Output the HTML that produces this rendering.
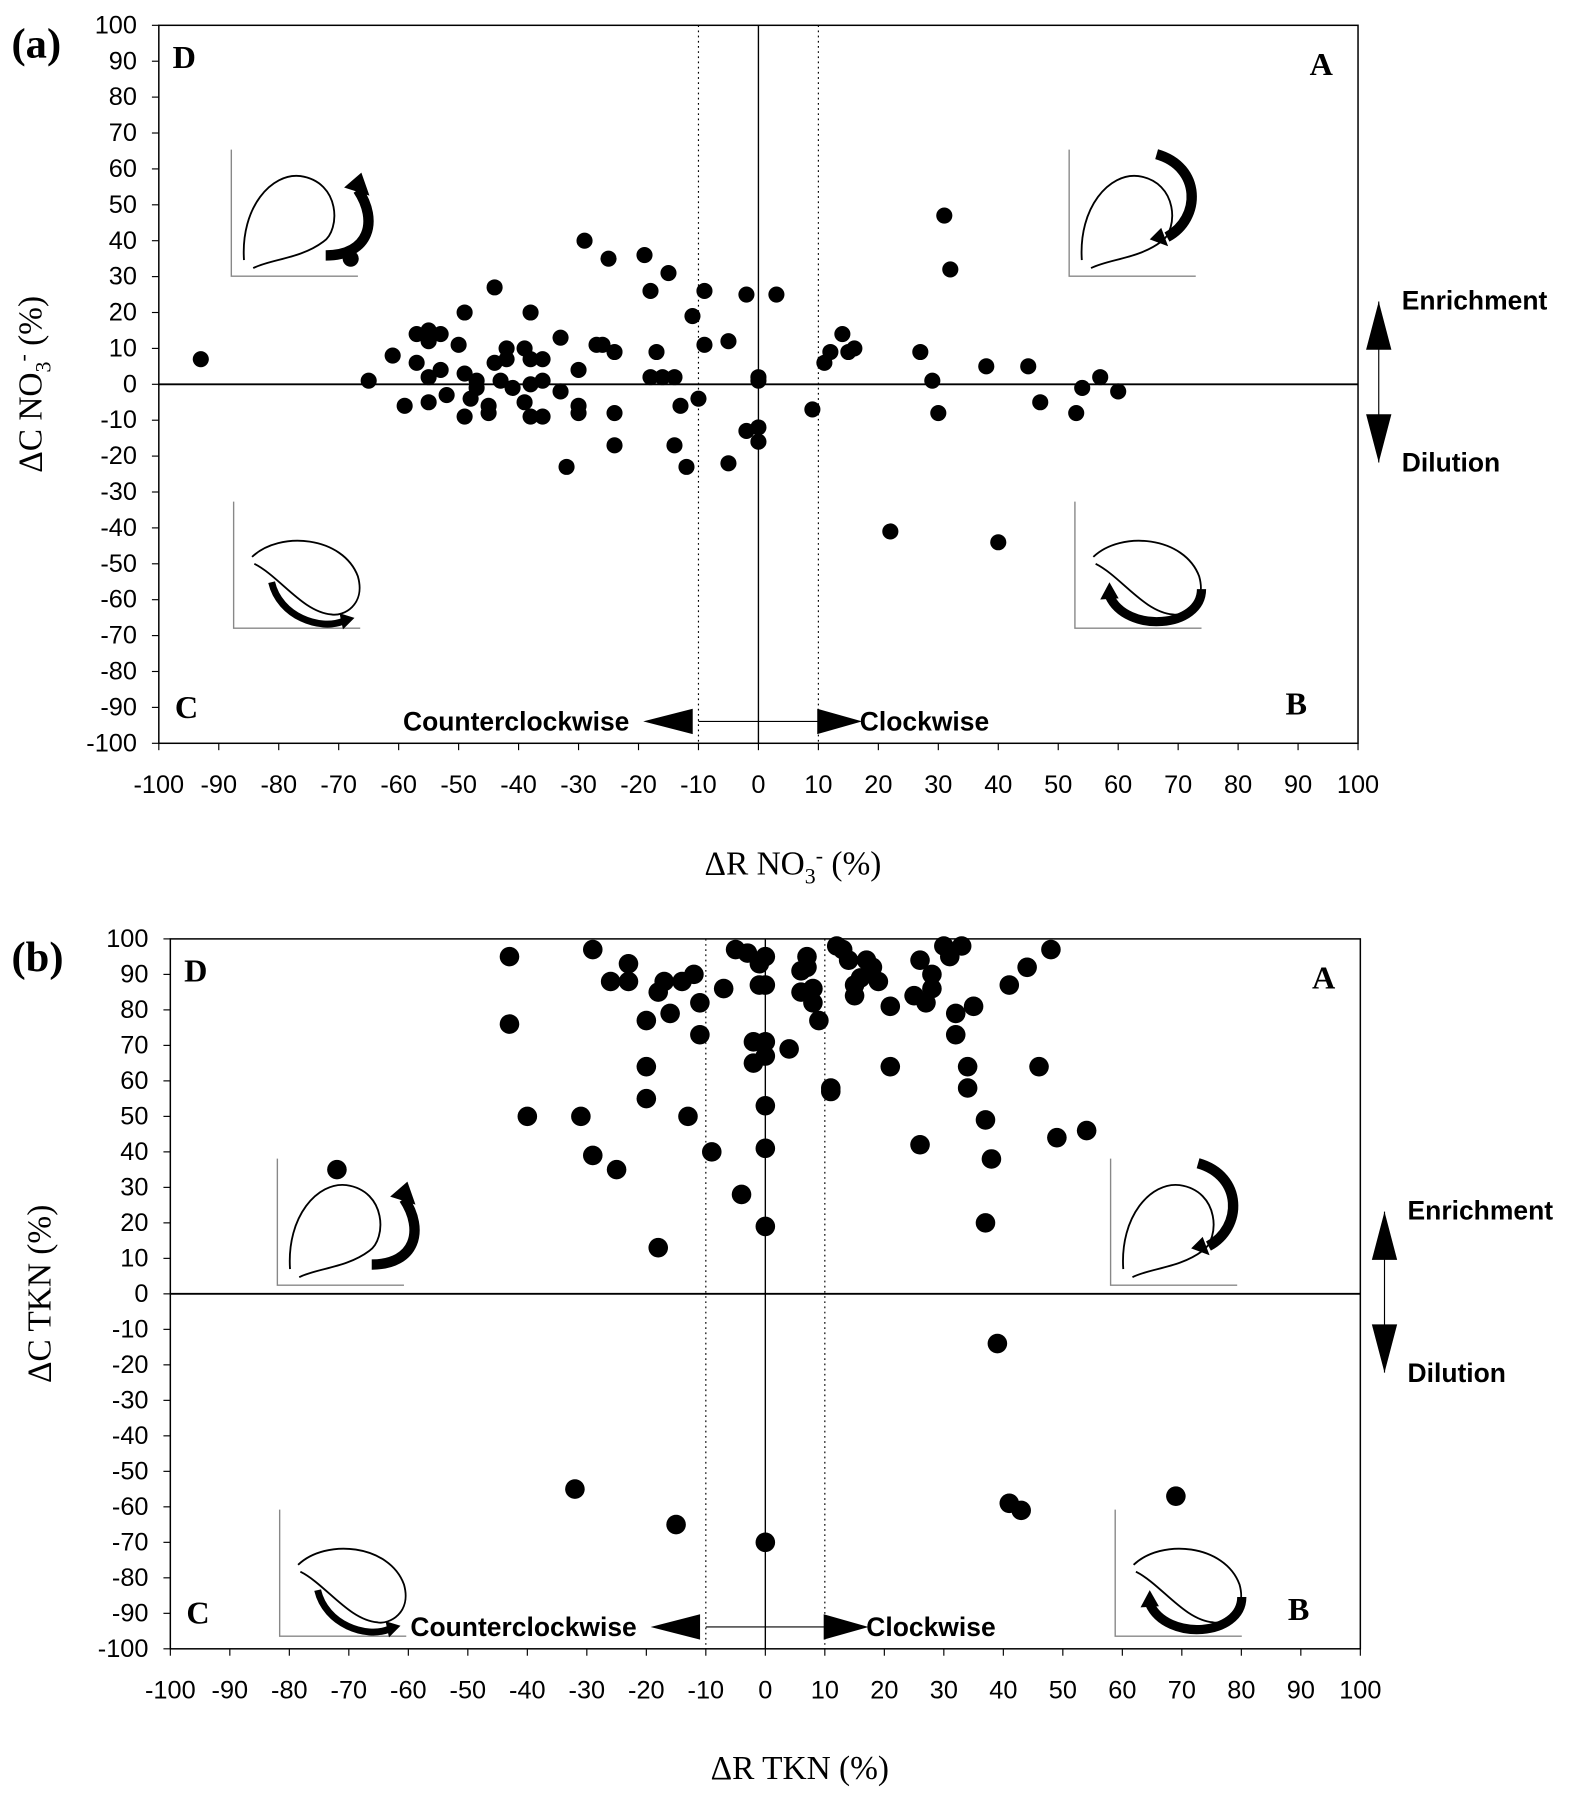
<!DOCTYPE html>
<html><head><meta charset="utf-8"><style>
html,body{margin:0;padding:0;background:#fff;}
svg{display:block;}
.tk{font-family:"Liberation Sans",sans-serif;font-size:22px;fill:#000;}
.ser{font-family:"Liberation Serif",serif;}
.bs{font-family:"Liberation Sans",sans-serif;font-weight:bold;font-size:23px;}
</style></head><body>
<svg id="fig" width="1579" height="1803" viewBox="0 0 1372 1567" preserveAspectRatio="none" xmlns="http://www.w3.org/2000/svg"></svg>
<script>
// Panel (a) data: ΔR NO3- vs ΔC NO3-
const aX = [-93,-68,-65,-61,-59,-57,-57,-55,-55,-55,-55,-53,-53,-52,-50,-49,-49,-49,-48,-47,-47,-45,-45,-44,-44,-43,-42,-42,-41,-39,-38,-38,-38,-39,-38,-36,-36,-36,-33,-33,-32,-30,-30,-30,-29,-27,-26,-25,-24,-24,-24,-19,-18,-18,-17,-16,-15,-14,-14,-13,-12,-11,-10,-9,-9,-5,-5,-2,-2,0,0,0,0,3,9,11,12,14,15,16,22,27,29,30,31,32,38,40,45,47,53,54,57,60];
const aY = [7,35,1,8,-6,14,6,15,12,2,-5,14,4,-3,11,20,3,-9,-4,1,-1,-6,-8,27,6,1,10,7,-1,10,20,7,0,-5,-9,7,1,-9,-2,13,-23,4,-6,-8,40,11,11,35,9,-8,-17,36,26,2,9,2,31,2,-17,-6,-23,19,-4,26,11,12,-22,25,-13,1,2,-12,-16,25,-7,6,9,14,9,10,-41,9,1,-8,47,32,5,-44,5,-5,-8,-1,2,-2];
// Panel (b) data: ΔR TKN vs ΔC TKN
const bX = [-43,-43,-40,-31,-29,-29,-26,-25,-23,-23,-20,-20,-20,-18,-17,-18,-16,-15,-14,-12,-11,-11,-13,-9,-7,-5,-4,-3,-2,-2,-1,0,-1,0,0,0,0,0,0,0,-32,-72,4,6,6,7,7,8,8,9,11,11,12,13,14,15,15,16,17,18,19,21,21,25,26,26,27,28,28,30,31,32,32,33,34,34,35,37,37,38,39,41,43,41,44,46,48,49,54,69];
const bY = [95,76,50,50,97,39,88,35,93,88,55,77,64,85,88,13,79,-65,88,90,82,73,50,40,86,97,28,96,71,65,93,87,87,95,71,67,53,41,19,-70,-55,35,69,91,85,95,92,82,86,77,58,57,98,97,94,87,84,89,94,92,88,64,81,84,94,42,82,90,86,98,95,79,73,98,64,58,81,49,20,38,-14,-59,-61,87,92,64,97,44,46,-57];
const ticks = [-100,-90,-80,-70,-60,-50,-40,-30,-20,-10,0,10,20,30,40,50,60,70,80,90,100];

const NS="http://www.w3.org/2000/svg";
const svg=document.getElementById('fig');
function el(tag,attrs,parent){const e=document.createElementNS(NS,tag);for(const k in attrs)e.setAttribute(k,attrs[k]);(parent||svg).appendChild(e);return e;}
function txt(s,attrs,parent){const e=el('text',attrs,parent);e.textContent=s;return e;}

function inset(g,ox,oy,type){
  el('path',{d:`M${ox},${oy} V${oy+110} H${ox+110}`,fill:'none',stroke:'#888','stroke-width':1.2},g);
  if(type==='D'||type==='A'){
    el('path',{d:`M${ox+11},${oy+96} C${ox+8},${oy+50} ${ox+35},${oy+20} ${ox+60},${oy+23} C${ox+95},${oy+28} ${ox+95},${oy+70} ${ox+80},${oy+80} C${ox+60},${oy+95} ${ox+35},${oy+95} ${ox+19},${oy+103}`,fill:'none',stroke:'#000','stroke-width':1.6},g);
    if(type==='D'){
      el('path',{d:`M${ox+82},${oy+92} C${ox+120},${oy+92} ${ox+128},${oy+62} ${ox+110},${oy+35}`,fill:'none',stroke:'#000','stroke-width':9},g);
      el('path',{d:`M${ox+98},${oy+33} L${ox+113},${oy+20} L${ox+120},${oy+40} Z`,fill:'#000'},g);
    } else {
      el('path',{d:`M${ox+76},${oy+4} C${ox+115},${oy+15} ${ox+115},${oy+60} ${ox+85},${oy+76}`,fill:'none',stroke:'#000','stroke-width':9},g);
      el('path',{d:`M${ox+80},${oy+68} L${ox+70},${oy+78} L${ox+86},${oy+84} Z`,fill:'#000'},g);
    }
  } else {
    el('path',{d:`M${ox+16},${oy+48} C${ox+40},${oy+25} ${ox+95},${oy+30} ${ox+108},${oy+65} C${ox+115},${oy+90} ${ox+95},${oy+100} ${ox+85},${oy+98} C${ox+60},${oy+96} ${ox+40},${oy+65} ${ox+18},${oy+54}`,fill:'none',stroke:'#000','stroke-width':1.6},g);
    if(type==='C'){
      el('path',{d:`M${ox+33},${oy+70} C${ox+40},${oy+100} ${ox+75},${oy+112} ${ox+95},${oy+104}`,fill:'none',stroke:'#000','stroke-width':6},g);
      el('path',{d:`M${ox+92},${oy+97} L${ox+105},${oy+101} L${ox+95},${oy+111} Z`,fill:'#000'},g);
    } else {
      el('path',{d:`M${ox+110},${oy+76} C${ox+110},${oy+110} ${ox+45},${oy+115} ${ox+30},${oy+82}`,fill:'none',stroke:'#000','stroke-width':8},g);
      el('path',{d:`M${ox+22},${oy+85} L${ox+30},${oy+70} L${ox+38},${oy+84} Z`,fill:'#000'},g);
    }
  }
}

function panel(cfg){
  const g=el('g',{});
  
  
  const {L,R,T,B}=cfg;
  const sx=v=>L+(v+100)/200*(R-L);
  const sy=v=>T+(100-v)/200*(B-T);
  el('rect',{x:L,y:T,width:R-L,height:B-T,fill:'none',stroke:'#000','stroke-width':1.3},g);
  ticks.forEach(t=>{
    el('line',{x1:sx(t),x2:sx(t),y1:B,y2:B+6,stroke:'#000','stroke-width':1},g);
    const xl=txt(String(t),{x:sx(t),y:B+43,'text-anchor':'middle',class:'tk'},g);
    
    
    el('line',{x1:L-6,x2:L,y1:sy(t),y2:sy(t),stroke:'#000','stroke-width':1},g);
    const yl=txt(String(t),{x:L-19,y:sy(t)+7,'text-anchor':'end',class:'tk'},g);
    
    
  });
  el('line',{x1:L,x2:R,y1:sy(0),y2:sy(0),stroke:'#000','stroke-width':1.6},g);
  el('line',{x1:sx(0),x2:sx(0),y1:T,y2:B,stroke:'#000','stroke-width':1.2},g);
  [-10,10].forEach(v=>el('line',{x1:sx(v),x2:sx(v),y1:T,y2:B,stroke:'#000','stroke-width':1,'stroke-dasharray':'1.5,3'},g));
  inset(g,cfg.ins.D[0],cfg.ins.D[1],'D');
  inset(g,cfg.ins.A[0],cfg.ins.A[1],'A');
  inset(g,cfg.ins.C[0],cfg.ins.C[1],'C');
  inset(g,cfg.ins.B[0],cfg.ins.B[1],'B');
  cfg.xs.forEach((x,i)=>{
    const c=el('circle',{cx:sx(x),cy:sy(cfg.ys[i]),r:cfg.r,fill:'#000'},g);
    
    
  });
  const q=[['D',L+12,T+37],['A',R-42,T+43],['C',L+14,B-22],['B',R-63,B-25]];
  q.forEach(([s,x,y])=>{const t=txt(s,{x:x,y:y,class:'ser','font-size':28,'font-weight':'bold'},g);});
  const ay=cfg.arrY;
  el('line',{x1:sx(-10),x2:sx(10),y1:ay,y2:ay,stroke:'#000','stroke-width':1},g);
  el('path',{d:`M${sx(-10)-5},${ay-11} L${sx(-10)-48},${ay} L${sx(-10)-5},${ay+11} Z`,fill:'#000'},g);
  el('path',{d:`M${sx(10)-1},${ay-11} L${sx(10)+38},${ay} L${sx(10)-1},${ay+11} Z`,fill:'#000'},g);
  const cc=txt('Counterclockwise',{x:sx(-10)-60,y:ay+8,'text-anchor':'end',class:'bs'},g);
  
  const cw=txt('Clockwise',{x:sx(10)+36,y:ay+8,class:'bs'},g);
  
  const ex=cfg.enX, e1=cfg.enY1, e2=cfg.enY2;
  el('line',{x1:ex,x2:ex,y1:e1,y2:e2,stroke:'#000','stroke-width':1},g);
  el('path',{d:`M${ex-11},${e1+42} L${ex},${e1} L${ex+11},${e1+42} Z`,fill:'#000'},g);
  el('path',{d:`M${ex-11},${e2-42} L${ex},${e2} L${ex+11},${e2-42} Z`,fill:'#000'},g);
  const en=txt('Enrichment',{x:ex+20,y:e1+7,class:'bs'},g);
  
  const di=txt('Dilution',{x:ex+20,y:e2+8,class:'bs'},g);
  
  const xt=txt('',{x:(L+R)/2+30,y:cfg.xtY,'text-anchor':'middle',class:'ser','font-size':29},g);
  xt.innerHTML=cfg.xt;
  
  const yt=txt('',{x:0,y:0,'text-anchor':'middle',class:'ser','font-size':29,transform:`translate(${cfg.ytX},${sy(0)}) rotate(-90)`},g);
  yt.innerHTML=cfg.yt;
  
  const pl=txt(cfg.label,{x:10,y:T+28,class:'ser','font-size':37,'font-weight':'bold'},g);
  
}

panel({name:'panel-a-no3',L:138,R:1180,T:22,B:646,xs:aX,ys:aY,r:7,
  ins:{D:[201,130],A:[929,130],C:[203,436],B:[934,436]},
  arrY:627,enX:1198,enY1:262,enY2:402,xtY:760,ytX:36,
  xt:'ΔR NO<tspan font-size="19" dy="8">3</tspan><tspan font-size="19" dy="-18">-</tspan><tspan dy="10"> (%)</tspan>',
  yt:'ΔC NO<tspan font-size="19" dy="8">3</tspan><tspan font-size="19" dy="-18">-</tspan><tspan dy="10"> (%)</tspan>',
  label:'(a)'});
panel({name:'panel-b-tkn',L:148,R:1182,T:816,B:1433,xs:bX,ys:bY,r:8.5,
  ins:{D:[241,1007],A:[965,1007],C:[243,1312],B:[969,1312]},
  arrY:1414,enX:1203,enY1:1053,enY2:1193,xtY:1546,ytX:44,
  xt:'ΔR TKN (%)',yt:'ΔC TKN (%)',label:'(b)'});
</script>
</body></html>
